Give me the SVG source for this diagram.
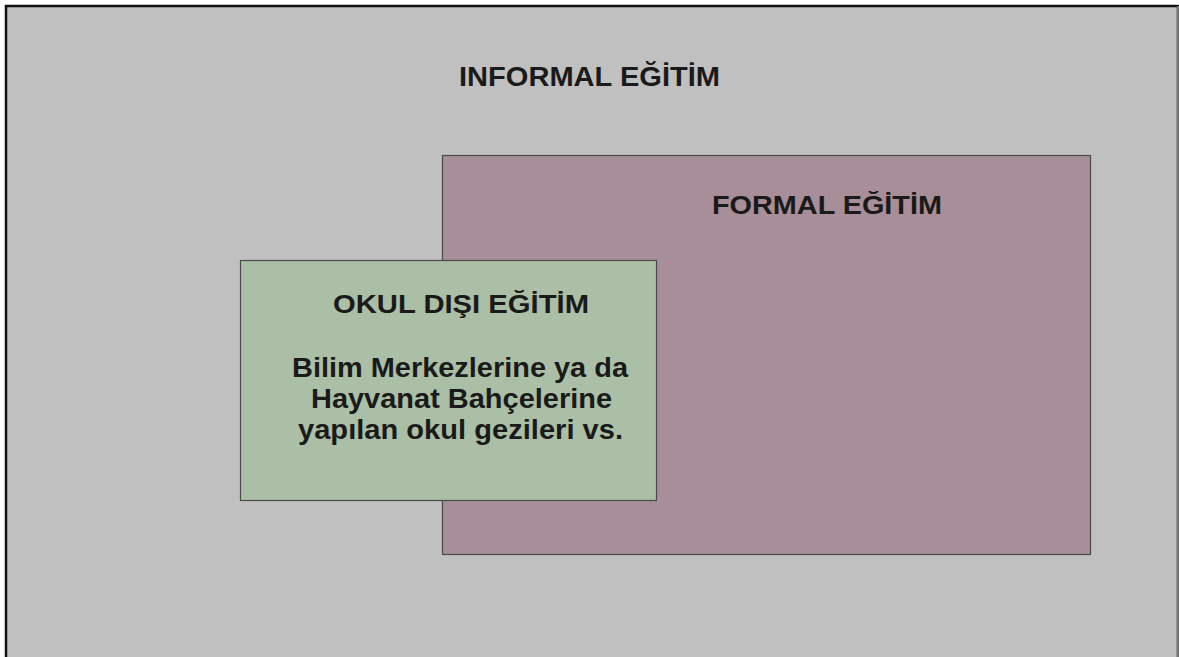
<svg xmlns="http://www.w3.org/2000/svg" width="1179" height="657" viewBox="0 0 1179 657">
<style>
.t{font-family:"Liberation Sans",Arial,sans-serif;font-weight:bold;fill:#1a1a1a;text-anchor:middle}
.box{stroke:#4a4a4a;stroke-width:1.2}
</style>
<rect x="0" y="0" width="1179" height="657" fill="#ffffff"/>
<g id="informal">
<rect x="6" y="6" width="1172" height="660" fill="#c0c0c0" stroke="#111" stroke-width="2.5"/>
<line x1="1178" y1="6" x2="1178" y2="657" stroke="#9a9a9a" stroke-width="1.5"/>
<text class="t" x="589.5" y="86" font-size="27" textLength="261" lengthAdjust="spacingAndGlyphs">INFORMAL EĞİTİM</text>
</g>
<g id="formal">
<rect class="box" x="442.5" y="155.5" width="648" height="399" fill="#a88e98"/>
<text class="t" x="827" y="214" font-size="26" textLength="230" lengthAdjust="spacingAndGlyphs">FORMAL EĞİTİM</text>
</g>
<g id="okul">
<rect class="box" x="240.5" y="260.5" width="416" height="240" fill="#abbfa6"/>
<text class="t" x="461" y="312.5" font-size="26" textLength="256" lengthAdjust="spacingAndGlyphs">OKUL DIŞI EĞİTİM</text>
<text class="t" x="460" y="377" font-size="27" textLength="336" lengthAdjust="spacingAndGlyphs">Bilim Merkezlerine ya da</text>
<text class="t" x="461.5" y="408" font-size="27" textLength="301" lengthAdjust="spacingAndGlyphs">Hayvanat Bahçelerine</text>
<text class="t" x="460.5" y="439" font-size="27" textLength="325" lengthAdjust="spacingAndGlyphs">yapılan okul gezileri vs.</text>
</g>
<g id="connectors"></g>
</svg>
